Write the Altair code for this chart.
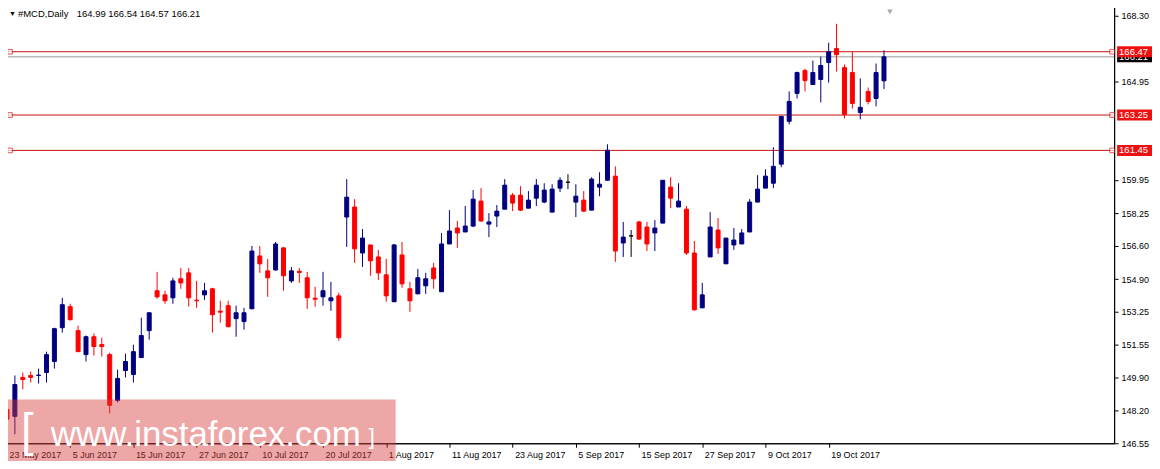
import altair as alt
import pandas as pd

# ---- data (daily candles, 23 May 2017 .. 30 Oct 2017) ----
opens = [148.27, 147.92, 149.90, 150.00, 150.00, 150.15, 150.71, 152.43, 153.50, 152.28,
         151.06, 151.97, 151.57, 151.06, 148.73, 150.25, 150.05, 150.91, 152.28, 154.31,
         154.10, 153.95, 154.92, 155.22, 153.83, 154.10, 154.41, 153.27, 153.55, 152.89,
         152.74, 153.39, 156.08, 155.32, 155.37, 156.49, 154.81, 155.30, 154.97, 153.93,
         154.00, 153.80, 154.05, 158.06, 158.57, 156.23, 156.64, 156.03, 155.12, 153.75,
         156.13, 154.41, 154.15, 154.56, 155.47, 154.26, 156.69, 157.50, 157.30, 157.60,
         158.87, 157.70, 158.11, 158.46, 159.17, 159.17, 158.51, 159.02, 158.82, 158.31,
         159.53, 159.83, 158.82, 158.92, 158.41, 159.58, 159.93, 160.14, 156.74, 157.10,
         157.81, 157.55, 157.25, 157.75, 159.58, 158.57, 158.46, 156.23, 153.44, 156.03,
         157.40, 155.68, 156.64, 156.69, 157.30, 158.82, 159.53, 159.78, 160.75, 162.93,
         164.35, 165.51, 164.80, 165.06, 165.92, 166.63, 165.66, 165.41, 163.38, 164.45,
         164.09, 164.99]
highs = [148.68, 150.00, 150.15, 150.20, 150.35, 151.21, 152.43, 153.95, 153.65, 152.53,
         152.03, 152.13, 151.92, 151.16, 150.30, 151.11, 151.57, 152.94, 153.19, 155.27,
         154.31, 154.97, 155.47, 155.47, 154.81, 154.71, 154.46, 153.80, 153.80, 153.55,
         153.44, 156.59, 156.59, 155.93, 156.79, 156.54, 155.52, 155.47, 155.27, 154.51,
         155.27, 154.76, 154.21, 159.99, 158.97, 157.45, 156.64, 156.39, 155.93, 156.69,
         156.79, 154.76, 155.42, 155.22, 155.73, 157.25, 158.41, 157.86, 158.62, 159.43,
         159.53, 158.26, 158.67, 159.99, 159.28, 159.63, 159.38, 159.99, 159.78, 159.73,
         160.09, 160.24, 159.73, 159.38, 160.09, 160.34, 161.76, 160.64, 157.81, 157.40,
         157.86, 157.81, 157.91, 159.93, 160.09, 159.78, 158.62, 156.84, 154.71, 158.31,
         158.01, 156.99, 157.50, 157.45, 158.97, 160.19, 160.49, 161.61, 163.18, 164.45,
         165.46, 165.61, 166.02, 166.22, 166.93, 167.89, 165.82, 166.47, 165.11, 164.65,
         165.87, 166.54]
lows = [147.51, 147.01, 149.29, 149.64, 149.59, 149.64, 150.35, 152.18, 152.79, 151.21,
        150.71, 151.01, 150.96, 148.07, 148.63, 149.90, 149.64, 150.91, 151.82, 153.90,
        153.65, 153.65, 154.41, 153.50, 153.44, 153.85, 152.18, 152.68, 152.48, 151.97,
        152.33, 153.39, 155.22, 154.00, 155.32, 154.31, 154.71, 154.71, 153.39, 153.50,
        153.55, 153.29, 151.77, 156.54, 155.73, 155.52, 155.07, 154.86, 153.75, 153.75,
        154.46, 153.24, 154.15, 154.15, 154.41, 154.26, 156.69, 156.49, 157.30, 157.55,
        157.81, 157.04, 157.55, 158.46, 158.36, 158.36, 158.51, 158.62, 158.77, 158.31,
        159.33, 159.48, 158.06, 158.31, 158.41, 159.12, 159.93, 155.78, 156.03, 156.03,
        156.89, 156.33, 156.33, 157.75, 158.51, 158.57, 156.13, 153.29, 153.44, 156.03,
        156.18, 155.68, 156.39, 156.69, 157.30, 158.82, 159.53, 159.53, 160.59, 162.77,
        164.09, 164.45, 164.80, 163.89, 164.90, 165.46, 163.08, 163.58, 163.03, 163.79,
        163.69, 164.57]
closes = [147.77, 149.54, 149.79, 149.90, 150.02, 151.06, 152.38, 153.60, 152.84, 151.21,
          151.97, 151.47, 151.47, 148.48, 149.85, 150.71, 151.21, 152.03, 153.19, 154.00,
          153.80, 154.81, 154.71, 153.95, 153.80, 154.31, 153.09, 153.22, 152.48, 153.19,
          153.19, 156.33, 155.68, 154.97, 156.69, 155.07, 155.32, 155.24, 153.95, 153.88,
          154.31, 153.95, 151.92, 159.07, 156.44, 156.99, 155.83, 155.22, 154.05, 156.64,
          154.66, 153.80, 154.97, 154.92, 154.92, 156.69, 157.35, 157.25, 157.60, 158.97,
          157.86, 157.81, 158.36, 159.68, 158.77, 158.41, 158.92, 159.68, 159.43, 159.48,
          159.93, 159.83, 159.12, 158.36, 159.99, 159.73, 161.46, 156.33, 157.04, 157.10,
          156.94, 156.69, 157.50, 159.93, 159.02, 158.87, 156.23, 153.34, 154.10, 157.55,
          156.49, 156.99, 156.89, 157.25, 158.82, 159.48, 160.14, 160.64, 163.18, 163.94,
          165.41, 165.00, 165.41, 165.77, 166.47, 166.32, 163.28, 163.84, 163.64, 163.94,
          165.41, 166.21]

tick_idx = [0, 8, 16, 24, 32, 40, 48, 56, 64, 72, 80, 88, 96, 104]
tick_labels = ["23 May 2017", "5 Jun 2017", "15 Jun 2017", "27 Jun 2017", "10 Jul 2017",
               "20 Jul 2017", "1 Aug 2017", "11 Aug 2017", "23 Aug 2017", "5 Sep 2017",
               "15 Sep 2017", "27 Sep 2017", "9 Oct 2017", "19 Oct 2017"]
price_ticks = [146.55, 148.20, 149.90, 151.55, 153.25, 154.90, 156.60, 158.25, 159.95,
               164.95, 168.30]
level_prices = [166.47, 163.25, 161.45]
bid_price = [166.21]
header_symbol = "#MCD,Daily"
header_ohlc = "164.99 166.54 164.57 166.21"

# ---- tables ----
n = len(opens)
df = pd.DataFrame({"idx": list(range(n)), "O": opens, "H": highs, "L": lows, "C": closes})
df["dir"] = ["up" if c > o else ("down" if c < o else "flat") for o, c in zip(opens, closes)]
lv = pd.DataFrame({"p": level_prices, "lab": [f"{v:.2f}" for v in level_prices]})
bd = pd.DataFrame({"p": bid_price, "lab": [f"{v:.2f}" for v in bid_price]})

W, H = 1118, 444
FONT = "Liberation Sans"
NAVY, RED = "#000080", "#ff0000"

xscale = alt.Scale(domain=[-0.25, 139.5], nice=False, zero=False)
yscale = alt.Scale(domain=[146.55, 169.06], nice=False, zero=False)
dir_scale = alt.Scale(domain=["up", "down", "flat"], range=[NAVY, RED, "#000000"])
col = alt.Color("dir:N", scale=dir_scale, legend=None)

idx_js = "[" + ",".join(str(v) for v in tick_idx) + "]"
lab_js = "[" + ",".join("'" + s + "'" for s in tick_labels) + "]"

xaxis = alt.Axis(values=tick_idx, labelExpr=f"{lab_js}[indexof({idx_js}, datum.value)]",
                 labelAlign="left", labelOffset=2, labelPadding=3, tickSize=4,
                 labelFont=FONT, labelFontSize=9, labelColor="#000", tickColor="#000",
                 domainColor="#000", grid=False, title=None, labelOverlap=False)
yaxis = alt.Axis(orient="right", values=price_ticks, format=".2f", tickSize=4, labelPadding=3,
                 labelFont=FONT, labelFontSize=9, labelColor="#000", tickColor="#000",
                 domainColor="#000", grid=False, title=None, labelOverlap=False)


def Y(field):
    return alt.Y(field, type="quantitative", scale=yscale, axis=yaxis)


def X(field):
    return alt.X(field, type="quantitative", scale=xscale, axis=xaxis)


bid_line = alt.Chart(bd).mark_rule(color="#9a9a9a", strokeWidth=1).encode(y=Y("p"))
level_lines = alt.Chart(lv).mark_rule(color="#cc1111", strokeWidth=1).encode(y=Y("p"))

wicks = alt.Chart(df).mark_rule(strokeWidth=1).encode(
    x=X("idx"), y=Y("L"), y2="H:Q", color=col)
bodies = alt.Chart(df).mark_bar(size=4, strokeWidth=1).encode(
    x=X("idx"), y=Y("O"), y2="C:Q", color=col,
    stroke=alt.Stroke("dir:N", scale=dir_scale, legend=None))

sq_left = alt.Chart(lv).mark_square(size=22, filled=True, color="#ffffff", stroke="#cc1111", strokeWidth=1).encode(
    x=alt.value(10), y=Y("p"))
sq_right = alt.Chart(lv).mark_square(size=22, filled=True, color="#ffffff", stroke="#cc1111", strokeWidth=1).encode(
    x=alt.value(W - 2), y=Y("p"))

bid_box = alt.Chart(bd).mark_rule(color="#000000", strokeWidth=11, strokeCap="butt").encode(
    x=alt.value(W + 3), x2=alt.value(W + 39), y=Y("p"))
bid_txt = alt.Chart(bd).mark_text(align="left", baseline="middle", font=FONT, fontSize=9.5, color="#ffffff").encode(
    x=alt.value(W + 5), y=Y("p"), text="lab:N")
lvl_box = alt.Chart(lv).mark_rule(color="#ee1111", strokeWidth=11, strokeCap="butt").encode(
    x=alt.value(W + 3), x2=alt.value(W + 39), y=Y("p"))
lvl_txt = alt.Chart(lv).mark_text(align="left", baseline="middle", font=FONT, fontSize=9.5, color="#ffffff").encode(
    x=alt.value(W + 5), y=Y("p"), text="lab:N")

hdr = pd.DataFrame({"t": ["\u25bc", header_symbol, header_ohlc], "k": [0, 1, 2]})
hdr_tri = alt.Chart(hdr[hdr.k == 0]).mark_text(align="left", baseline="middle", font=FONT, fontSize=7, color="#000").encode(
    x=alt.value(9), y=alt.value(13), text="t:N")
hdr_sym = alt.Chart(hdr[hdr.k == 1]).mark_text(align="left", baseline="middle", font=FONT, fontSize=9.5, color="#000").encode(
    x=alt.value(18), y=alt.value(13), text="t:N")
hdr_val = alt.Chart(hdr[hdr.k == 2]).mark_text(align="left", baseline="middle", font=FONT, fontSize=9.5, color="#000").encode(
    x=alt.value(77), y=alt.value(13), text="t:N")

shift_mark = alt.Chart(hdr[hdr.k == 0]).mark_point(shape="triangle-down", filled=True, color="#a8a8a8", size=30, opacity=1).encode(
    x=alt.value(893), y=alt.value(11))

wm = pd.DataFrame({"t": ["[", "www.instaforex.com", "]"], "k": [0, 1, 2]})
wm_rect = alt.Chart(wm[wm.k == 0]).mark_rect(color="#d83c3c", opacity=0.45).encode(
    x=alt.value(0), x2=alt.value(397), y=alt.value(400), y2=alt.value(466))
wm_l = alt.Chart(wm[wm.k == 0]).mark_text(align="left", baseline="alphabetic", font=FONT, fontSize=46, color="#ffffff").encode(
    x=alt.value(21), y=alt.value(447), text="t:N")
wm_m = alt.Chart(wm[wm.k == 1]).mark_text(align="left", baseline="alphabetic", font=FONT, fontSize=35, color="#ffffff").encode(
    x=alt.value(51), y=alt.value(447), text="t:N")
wm_r = alt.Chart(wm[wm.k == 2]).mark_text(align="left", baseline="alphabetic", font=FONT, fontSize=22, color="#ffffff").encode(
    x=alt.value(370), y=alt.value(445), text="t:N")

chart = alt.layer(
    bid_line, level_lines, wicks, bodies, sq_left, sq_right,
    bid_box, bid_txt, lvl_box, lvl_txt,
    hdr_tri, hdr_sym, hdr_val, shift_mark,
    wm_rect, wm_l, wm_m, wm_r,
).properties(
    width=W, height=H,
    padding={"left": -8, "top": -8, "right": 38, "bottom": 17},
    autosize=alt.AutoSizeParams(type="none"),
    background="#ffffff",
).configure_view(stroke="#000000", strokeWidth=1)

chart.save("out.html", embed_options={"renderer": "svg", "actions": False})
